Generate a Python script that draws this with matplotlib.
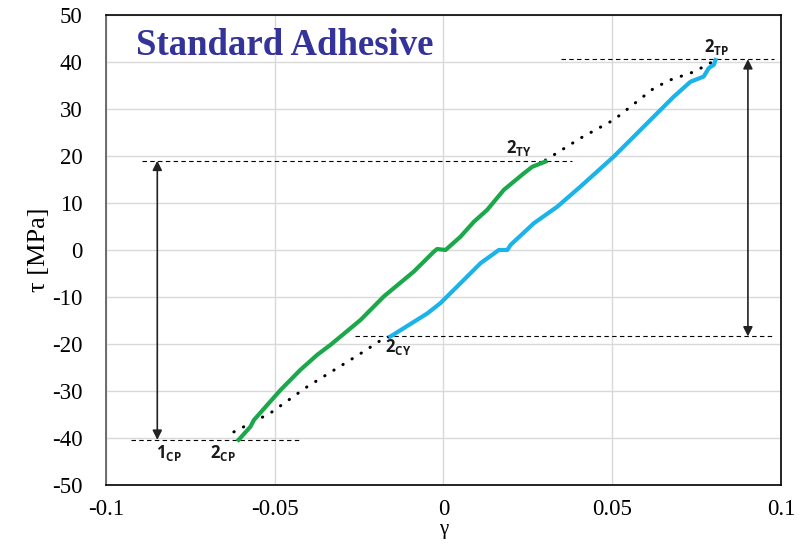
import matplotlib.pyplot as plt
import numpy as np

# loading branch (compression peak -> tension yield)
green_x = [-0.0607, -0.0572, -0.0562, -0.0483, -0.0424, -0.0374, -0.0335, -0.0246,
           -0.0177, -0.0088, -0.0029, -0.0019, 0.0006, 0.0050, 0.0090, 0.0129,
           0.0179, 0.0238, 0.0263, 0.0302]
green_y = [-40.4, -37.6, -36.2, -29.8, -25.5, -22.3, -20.2, -14.9,
           -9.9, -4.6, -0.4, 0.2, 0.0, 2.8, 6.0, 8.5,
           12.8, 16.3, 17.7, 18.8]

# reloading branch (compression yield -> tension peak)
blue_x = [-0.0157, -0.0088, -0.0048, -0.0009, 0.0050, 0.0110, 0.0164, 0.0189,
          0.0199, 0.0268, 0.0337, 0.0406, 0.0505, 0.0604, 0.0682, 0.0732,
          0.0771, 0.0786, 0.0801, 0.0806]
blue_y = [-18.4, -15.3, -13.5, -11.3, -7.1, -2.8, 0.0, 0.0,
          1.1, 5.7, 9.2, 13.5, 19.9, 27.0, 32.6, 35.8,
          36.9, 38.7, 39.4, 40.4]

# dotted paths (plastic parts)
dot_low_x = [-0.0621, -0.0513, -0.0404, -0.0285, -0.0236, -0.0177, -0.0157]
dot_low_y = [-38.7, -34.7, -29.1, -23.8, -21.6, -18.8, -18.4]
dot_up_x = [0.0302, 0.0406, 0.0505, 0.0623, 0.0673, 0.0742, 0.0771, 0.0806]
dot_up_y = [19.1, 23.8, 27.7, 34.4, 36.2, 37.9, 39.0, 40.4]

# reference levels: (y, x_start, x_end)
levels = [(40.6, 0.0347, 0.0978),
          (19.0, -0.0892, 0.0381),
          (-18.4, -0.0261, 0.0974),
          (-40.4, -0.0927, -0.0419)]

# double arrows: (x, y_top, y_bottom)
arrows = [(-0.0848, 19.0, -40.4),
          (0.0902, 40.6, -18.4)]

# point labels: (text, x, y)
point_labels = [(r'$\mathbf{2_{TP}}$', 0.0772, 43.2),
                (r'$\mathbf{2_{TY}}$', 0.0185, 21.7),
                (r'$\mathbf{2_{CY}}$', -0.0174, -20.7),
                (r'$\mathbf{1_{CP}}$', -0.0852, -43.2),
                (r'$\mathbf{2_{CP}}$', -0.0692, -43.2)]

plt.rcParams['axes.unicode_minus'] = False
plt.rcParams['mathtext.fontset'] = 'custom'
plt.rcParams['mathtext.rm'] = 'Open Sans'
plt.rcParams['mathtext.bf'] = 'Open Sans:bold'

fig = plt.figure(figsize=(8.03, 5.44), dpi=100)
ax = fig.add_axes([0.132, 0.1085, 0.8406, 0.864])

ax.set_xlim(-0.1, 0.1)
ax.set_ylim(-50, 50)
ax.set_xticks([-0.1, -0.05, 0, 0.05, 0.1])
ax.set_xticklabels(['-0.1', '-0.05', '0', '0.05', '0.1'])
ax.set_yticks(np.arange(-50, 51, 10))
ax.grid(True, color='#d9d9d9', lw=1)
ax.set_axisbelow(True)
ax.tick_params(length=0, labelsize=16.5)
ax.tick_params(axis='y', pad=17)
ax.tick_params(axis='x', pad=10)
for lab in ax.get_xticklabels() + ax.get_yticklabels():
    lab.set_fontfamily('Liberation Serif')
for s in ax.spines.values():
    s.set_color('black')
    s.set_linewidth(1.2)
ax.spines['left'].set_color('#555555')

ax.set_xlabel('γ', fontsize=15, family='Liberation Serif', labelpad=0)
ax.set_ylabel('τ [MPa]', fontsize=19, family='Liberation Serif', labelpad=1)

for y, x0, x1 in levels:
    ax.plot([x0, x1], [y, y], color='black', lw=0.8, linestyle=(0, (4, 3)))

ax.plot(dot_low_x, dot_low_y, color='black', lw=2.2, linestyle=(0, (0.1, 3.4)),
        dash_capstyle='round')
ax.plot(dot_up_x, dot_up_y, color='black', lw=2.2, linestyle=(0, (0.1, 3.4)),
        dash_capstyle='round')

ax.plot(green_x, green_y, color='#1aa84a', lw=3.0, solid_joinstyle='round')
ax.plot(blue_x, blue_y, color='#1ab3ea', lw=3.0, solid_joinstyle='round')

for x, y0, y1 in arrows:
    ax.annotate('', xy=(x, y0), xytext=(x, y1),
                arrowprops=dict(arrowstyle='<|-|>', color='#222222', lw=1.2,
                                mutation_scale=14, shrinkA=0, shrinkB=0))

for txt, x, y in point_labels:
    ax.text(x, y, txt, fontsize=12, ha='left', va='center', color='#1a1a1a')

ax.text(0.044, 0.935, 'Standard Adhesive', transform=ax.transAxes,
        fontsize=26.5, fontweight='bold', family='Liberation Serif',
        color='#333399', ha='left', va='center')

fig.savefig('out.png', dpi=100)
